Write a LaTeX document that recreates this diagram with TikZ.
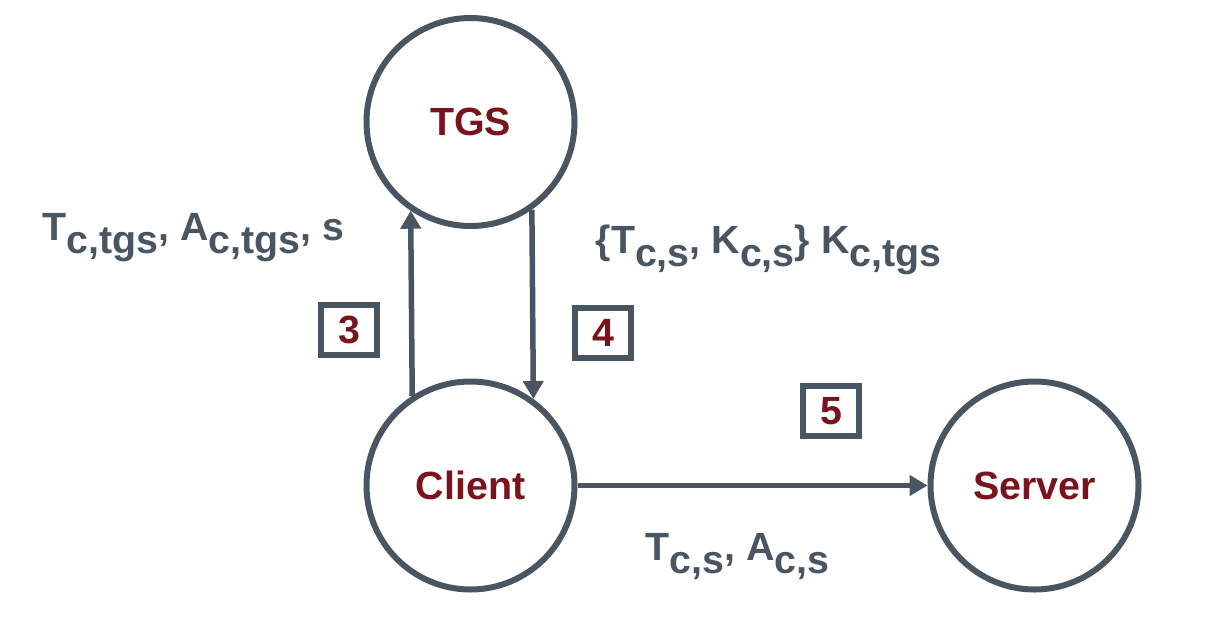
\documentclass[tikz,border=0pt]{standalone}
\usepackage{fontspec}
\setmainfont{Liberation Sans}
\usepackage{tikz}
\usetikzlibrary{arrows.meta, shapes, calc, positioning}
\definecolor{pizarra}{HTML}{4A5562}
\definecolor{granate}{HTML}{7A141C}
\newcommand{\lowtxt}[1]{\raisebox{-0.33em}{#1}}
\tikzset{
	every node/.style={
		font=\fontsize{11.2}{13}\selectfont\bfseries
	},
	entity/.style={
		shape=circle,
		draw=pizarra,
		line width=0.06cm,
		minimum size=2.08cm,
		inner sep=0pt,
		text=granate
	},
	stepbox/.style={
		shape=rectangle,
		draw=pizarra,
		line width=0.06cm,
		minimum width=0.56cm,
		minimum height=0.5cm,
		inner sep=0pt,
		text=granate
	},
	message/.style={
		text=pizarra,
		inner sep=0pt,
		anchor=base west
	},
	flow/.style={
		-{Triangle[length=0.18cm,width=0.2cm]},
		draw=pizarra,
		line width=0.055cm
	}
}

\begin{document}
\begin{tikzpicture}
	\useasboundingbox (0,0) rectangle (12.18,6.34);
	
	\node[entity] (tgs) at (4.705,5.12) {TGS};
	\node[entity] (client) at (4.705,1.485) {Client};
	\node[entity] (server) at (10.345,1.485) {Server};
	
	\node[stepbox] (paso3) at (3.49,3.04) {3};
	\node[stepbox] (paso4) at (6.03,3.01) {4};
	\node[stepbox] (paso5) at (8.31,2.23) {5};
	
	\node[message] (msg3) at (0.42,3.94) {T\lowtxt{c,tgs}, A\lowtxt{c,tgs}, s};
	\node[message] (msg4) at (5.95,3.81) {\{T\lowtxt{c,s}, K\lowtxt{c,s}\} K\lowtxt{c,tgs}};
	\node[message] (msg5) at (6.45,0.74) {T\lowtxt{c,s}, A\lowtxt{c,s}};
	
	\draw[flow] (client.123.1) -- (tgs.236.9);
	\draw[flow] (tgs.305.7) -- (client.54.3);
	\draw[flow] (client) -- (server);
	
\end{tikzpicture}
\end{document}
